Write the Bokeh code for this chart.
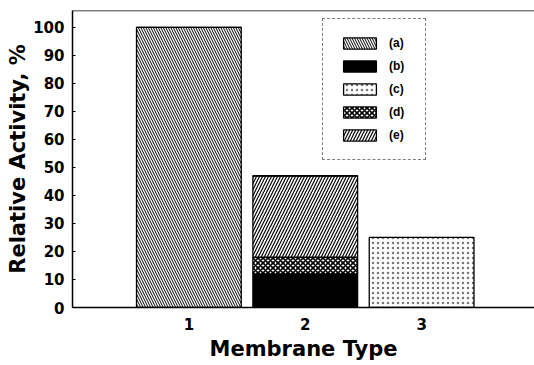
from bokeh.plotting import figure
from bokeh.models import ColumnDataSource, Legend, LegendItem, FixedTicker, Range1d, Span
from bokeh.transform import stack
from bokeh.embed import file_html
from bokeh.resources import INLINE

membrane_types = [1, 2, 3]
tick_labels = {1: "1", 2: "2", 3: "3"}
series_names = ["(a)", "(b)", "(c)", "(d)", "(e)"]
act_a = [100, 0, 0]
act_b = [0, 12, 0]
act_c = [0, 0, 25]
act_d = [0, 6, 0]
act_e = [0, 29, 0]

src = ColumnDataSource(dict(x=membrane_types, a=act_a, b=act_b, c=act_c, d=act_d, e=act_e))

FONT = "DejaVu Sans"
p = figure(width=534, height=365, output_backend="svg", toolbar_location=None,
           x_range=Range1d(0, 3.97), y_range=Range1d(0, 106),
           min_border_left=72, min_border_right=0, min_border_top=10, min_border_bottom=58)
p.outline_line_color = None
p.xgrid.visible = False
p.ygrid.visible = False

styles = {
    "b": dict(fill_color="black"),
    "d": dict(fill_color="white", hatch_pattern="diagonal_cross", hatch_color="black", hatch_weight=1.6, hatch_scale=5),
    "e": dict(fill_color="white", hatch_pattern="right_diagonal_line", hatch_color="black", hatch_weight=1.2, hatch_scale=6),
    "a": dict(fill_color="white", hatch_pattern="left_diagonal_line", hatch_color="black", hatch_weight=1.0, hatch_scale=5),
    "c": dict(fill_color="white", hatch_pattern="dot", hatch_color="#777777", hatch_weight=1, hatch_scale=5),
}
order = ["b", "d", "e", "a", "c"]
renderers = {}
bottom_cols = []
for key in order:
    r = p.vbar(x="x", width=0.9, bottom=stack(*bottom_cols), top=stack(*(bottom_cols + [key])),
               source=src, line_color="black", line_width=1.3, **styles[key])
    renderers[key] = r
    bottom_cols.append(key)

top_line = Span(location=106, dimension="width", line_color="black", line_width=1.5)
p.add_layout(top_line)

items = [LegendItem(label=n, renderers=[renderers[k]]) for n, k in zip(series_names, ["a", "b", "c", "d", "e"])]
legend = Legend(items=items, location=(250, 147), glyph_width=41, glyph_height=14,
                label_height=16, spacing=7, padding=16, label_standoff=9,
                label_text_font="Liberation Sans", label_text_font_style="bold", label_text_font_size="12px",
                label_text_color="black",
                border_line_color="black", border_line_dash="4 2", border_line_width=1,
                background_fill_alpha=1)
p.add_layout(legend, "center")

p.xaxis.ticker = FixedTicker(ticks=membrane_types)
p.xaxis.major_label_overrides = tick_labels
p.xaxis.major_tick_line_color = None
p.xaxis.minor_tick_line_color = None
p.xaxis.axis_line_width = 1.5
p.xaxis.major_label_standoff = 4
p.xaxis.axis_label = "Membrane Type"
p.xaxis.axis_label_standoff = 4
p.xaxis.major_label_text_font_size = "15px"

p.yaxis.ticker = FixedTicker(ticks=list(range(0, 101, 10)))
p.yaxis.major_tick_in = 3
p.yaxis.major_tick_out = 0
p.yaxis.minor_tick_line_color = None
p.yaxis.axis_line_width = 1.5
p.yaxis.major_label_standoff = 8
p.yaxis.axis_label = "Relative Activity, %"
p.yaxis.axis_label_standoff = 0
p.yaxis.major_label_text_font_size = "15px"

for ax in (p.xaxis, p.yaxis):
    ax.major_label_text_font = FONT
    ax.major_label_text_font_style = "bold"
    ax.major_label_text_color = "black"
    ax.axis_label_text_font = FONT
    ax.axis_label_text_font_style = "bold"
    ax.axis_label_text_font_size = "21px"
    ax.axis_label_text_color = "black"

open("out.html", "w").write(file_html(p, INLINE))
